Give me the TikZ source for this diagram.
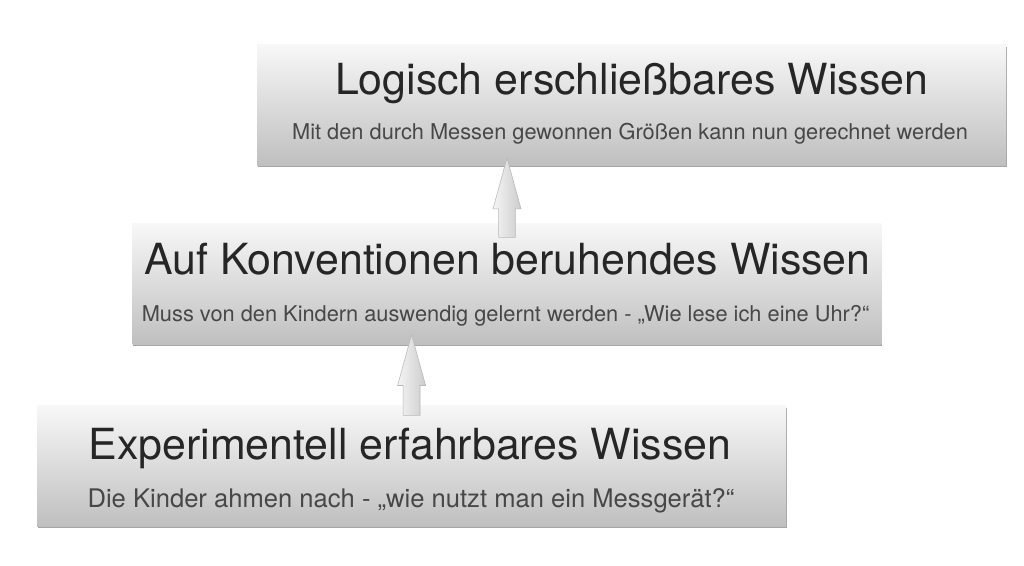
\documentclass[tikz,border=0pt]{standalone}
\usepackage{fontspec}
\setmainfont{TeX Gyre Heros}
\usetikzlibrary{calc,shadows}
\def\blockarrow[#1](#2)(#3){\draw[#1] ($(#2)+(-\shaftw,0)$) -- ($(#3)+(-\shaftw,-\headl)$) -- ($(#3)+(-\headw,-\headl)$) -- (#3) -- ($(#3)+(\headw,-\headl)$) -- ($(#3)+(\shaftw,-\headl)$) -- ($(#2)+(\shaftw,0)$) -- cycle;}
\tikzset{
  knowbox/.style={rectangle, minimum width=18.72cm, minimum height=3.02cm, inner sep=0pt,
    top color=black!3, bottom color=black!25,
    drop shadow={shadow xshift=0.02cm, shadow yshift=-0.05cm, opacity=0.35, fill=black}},
  headtext/.style={anchor=base, inner sep=0pt, text=black!85, font=\fontsize{30.5}{36}\selectfont},
  subtext/.style={anchor=base, inner sep=0pt, text=black!72, font=\fontsize{15.5}{18}\selectfont},
  arrowfill/.style={left color=black!4, right color=black!20, draw=black!28, line width=0.4pt}
}
\begin{document}
\begin{tikzpicture}
			%%%%% START %%%%%
			\def\shaftw{0.21}
			\def\headw{0.35}
			\def\headl{1.27}
			\useasboundingbox[fill=white] (0,0) rectangle (25.6,14.15);

			\node[knowbox] (top) at (15.79,11.525) {};
			\node[knowbox] (mid) at (12.675,7.05) {};
			\node[knowbox] (bot) at (10.29,2.5) {};

			\node[headtext] (toptitle) at (15.79,11.775) {Logisch erschließbares Wissen};
			\node[subtext] (topsub) at (15.75,10.65) {Mit den durch Messen gewonnen Größen kann nun gerechnet werden};

			\node[headtext] (midtitle) at (12.69,7.275) {Auf Konventionen beruhendes Wissen};
			\node[subtext] (midsub) at (12.64,6.1) {Muss von den Kindern auswendig gelernt werden - „Wie lese ich eine Uhr?“};

			\node[headtext] (bottitle) at (10.25,2.65) {Experimentell erfahrbares Wissen};
			\node[subtext, font=\fontsize{18.2}{21}\selectfont] (botsub) at (10.275,1.45) {Die Kinder ahmen nach - „wie nutzt man ein Messgerät?“};

			% arrows between the levels
			\coordinate (lowfoot) at ($(bot.north)+(0,-0.25)$);
			\coordinate (lowtip) at ($(bot.north |- mid.south)+(0,0.25)$);
			\coordinate (upfoot) at ($(mid.north)+(0,-0.35)$);
			\coordinate (uptip) at ($(mid.north |- top.south)+(0,0.19)$);
			\blockarrow[arrowfill](lowfoot)(lowtip)
			\blockarrow[arrowfill](upfoot)(uptip)
			%%%%% END %%%%%
\end{tikzpicture}
\end{document}
